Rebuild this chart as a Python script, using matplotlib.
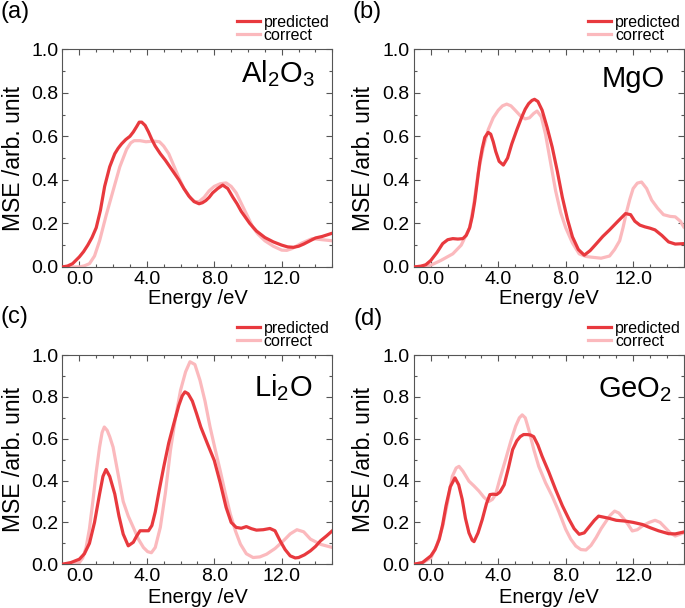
import numpy as np
import matplotlib
matplotlib.use("Agg")
import matplotlib.pyplot as plt
from matplotlib.ticker import MultipleLocator, FormatStrFormatter

plt.rcParams["font.family"] = ["Liberation Sans", "DejaVu Sans"]
plt.rcParams["mathtext.fontset"] = "custom"
plt.rcParams["mathtext.rm"] = "Liberation Sans"
plt.rcParams["mathtext.it"] = "Liberation Sans:italic"

PRED_COLOR = "#e8393e"
CORR_COLOR = "#fbb9bd"

# ---- data (energy in eV, MSE in arb. units) ----
a_pred_x = [-1.0, -0.7, -0.4, 0.0, 0.25, 0.5, 0.75, 1.0, 1.25, 1.5, 1.8, 2.1, 2.3, 2.5, 2.75,
            3.0, 3.2, 3.4, 3.55, 3.7, 3.9, 4.1, 4.3, 4.5, 4.8, 5.1, 5.5, 5.9, 6.2, 6.5, 6.8,
            7.1, 7.3, 7.5, 7.7, 7.9, 8.2, 8.5, 8.8, 9.1, 9.35, 9.6, 10.1, 10.5, 11.0, 11.5,
            12.0, 12.35, 12.7, 13.0, 13.3, 13.8, 14.0, 14.4, 15.0]
a_pred_y = [0.0, 0.004, 0.015, 0.046, 0.07, 0.10, 0.135, 0.18, 0.26, 0.37, 0.46, 0.52, 0.545,
            0.565, 0.585, 0.60, 0.62, 0.645, 0.665, 0.665, 0.65, 0.62, 0.585, 0.555, 0.52,
            0.49, 0.445, 0.40, 0.36, 0.325, 0.30, 0.29, 0.295, 0.305, 0.32, 0.34, 0.36, 0.376,
            0.36, 0.32, 0.29, 0.255, 0.20, 0.165, 0.135, 0.115, 0.10, 0.092, 0.09, 0.095,
            0.105, 0.125, 0.133, 0.14, 0.155]
a_corr_x = [-1.0, -0.5, 0.0, 0.3, 0.6, 0.9, 1.2, 1.6, 2.0, 2.4, 2.8, 3.05, 3.25, 3.6, 3.95,
            4.4, 4.75, 5.0, 5.3, 5.6, 5.9, 6.2, 6.6, 6.85, 7.1, 7.4, 7.7, 8.0, 8.35, 8.7, 9.0,
            9.3, 9.8, 10.3, 10.6, 11.0, 11.5, 12.0, 12.3, 12.6, 13.2, 13.8, 14.4, 15.0]
a_corr_y = [0.0, 0.0, 0.0, 0.005, 0.015, 0.05, 0.12, 0.24, 0.35, 0.46, 0.54, 0.57, 0.58, 0.58,
            0.575, 0.578, 0.575, 0.555, 0.52, 0.465, 0.41, 0.36, 0.315, 0.30, 0.30, 0.32, 0.35,
            0.37, 0.382, 0.386, 0.37, 0.34, 0.26, 0.18, 0.15, 0.12, 0.095, 0.077, 0.076,
            0.084, 0.11, 0.13, 0.125, 0.12]

b_pred_x = [-1.0, -0.6, -0.3, 0.0, 0.35, 0.7, 1.0, 1.3, 1.6, 1.9, 2.1, 2.3, 2.45, 2.6, 2.75,
            2.9, 3.05, 3.2, 3.4, 3.55, 3.7, 3.85, 4.05, 4.3, 4.55, 4.8, 5.1, 5.4, 5.6, 5.8,
            6.0, 6.15, 6.35, 6.6, 6.9, 7.2, 7.5, 7.8, 8.1, 8.4, 8.75, 9.1, 9.45, 9.8, 10.2,
            10.6, 11.1, 11.55, 11.85, 12.1, 12.4, 12.7, 13.0, 13.3, 13.7, 14.1, 14.5, 15.0]
b_pred_y = [0.0, 0.003, 0.01, 0.03, 0.065, 0.107, 0.125, 0.13, 0.128, 0.13, 0.145, 0.18, 0.23,
            0.30, 0.39, 0.48, 0.545, 0.595, 0.618, 0.61, 0.575, 0.53, 0.485, 0.468, 0.50,
            0.565, 0.63, 0.69, 0.725, 0.75, 0.765, 0.77, 0.76, 0.72, 0.64, 0.55, 0.44, 0.32,
            0.22, 0.138, 0.08, 0.054, 0.075, 0.105, 0.14, 0.17, 0.21, 0.245, 0.24, 0.21,
            0.192, 0.184, 0.178, 0.17, 0.145, 0.115, 0.105, 0.107]
b_corr_x = [-1.0, 0.0, 0.6, 1.3, 1.8, 2.3, 2.55, 2.8, 3.1, 3.4, 3.7, 4.0, 4.25, 4.5, 4.75, 5.0,
            5.3, 5.6, 5.85, 6.1, 6.3, 6.55, 6.8, 7.1, 7.4, 7.7, 8.0, 8.4, 8.8, 9.2, 9.5, 10.1,
            10.6, 10.9, 11.2, 11.4, 11.6, 11.8, 12.0, 12.25, 12.5, 12.8, 13.1, 13.45, 13.8,
            14.2, 14.5, 14.8, 15.0]
b_corr_y = [0.0, 0.008, 0.03, 0.06, 0.10, 0.18, 0.29, 0.43, 0.545, 0.63, 0.685, 0.72, 0.74,
            0.748, 0.74, 0.72, 0.695, 0.68, 0.685, 0.705, 0.716, 0.69, 0.61, 0.48, 0.35, 0.25,
            0.18, 0.11, 0.06, 0.048, 0.045, 0.04, 0.05, 0.08, 0.12, 0.18, 0.25, 0.31, 0.36,
            0.385, 0.39, 0.36, 0.307, 0.27, 0.24, 0.232, 0.23, 0.21, 0.184]

c_pred_x = [-1.0, -0.5, 0.0, 0.3, 0.6, 0.9, 1.2, 1.4, 1.58, 1.8, 2.1, 2.35, 2.6, 2.9, 3.2, 3.4,
            3.6, 3.85, 4.1, 4.3, 4.5, 4.75, 5.0, 5.3, 5.6, 5.9, 6.1, 6.26, 6.45, 6.7, 6.95,
            7.2, 7.6, 8.0, 8.35, 8.7, 9.0, 9.3, 9.6, 9.9, 10.2, 10.5, 10.9, 11.3, 11.6, 11.9,
            12.2, 12.5, 12.8, 13.0, 13.35, 13.7, 14.0, 14.3, 14.65, 15.0]
c_pred_y = [0.0, 0.008, 0.024, 0.05, 0.10, 0.20, 0.336, 0.42, 0.453, 0.42, 0.336, 0.23, 0.144,
            0.088, 0.105, 0.135, 0.16, 0.16, 0.16, 0.185, 0.25, 0.36, 0.464, 0.58, 0.672,
            0.76, 0.805, 0.824, 0.815, 0.78, 0.72, 0.656, 0.575, 0.496, 0.39, 0.272, 0.2,
            0.176, 0.172, 0.18, 0.17, 0.163, 0.165, 0.171, 0.16, 0.112, 0.07, 0.04, 0.03,
            0.032, 0.045, 0.064, 0.085, 0.112, 0.135, 0.16]
c_corr_x = [-1.0, -0.4, 0.0, 0.2, 0.4, 0.6, 0.8, 1.0, 1.2, 1.35, 1.48, 1.65, 1.8, 2.0, 2.3,
            2.6, 2.9, 3.2, 3.5, 3.8, 4.05, 4.27, 4.5, 4.8, 5.1, 5.4, 5.7, 6.0, 6.3, 6.56, 6.85,
            7.15, 7.45, 7.75, 8.05, 8.35, 8.65, 8.95, 9.25, 9.55, 9.9, 10.3, 10.7, 11.1, 11.6,
            12.1, 12.5, 12.9, 13.3, 13.7, 14.3, 15.0]
c_corr_y = [0.0, 0.003, 0.008, 0.03, 0.08, 0.17, 0.30, 0.44, 0.56, 0.63, 0.656, 0.64, 0.61,
            0.56, 0.43, 0.30, 0.23, 0.176, 0.12, 0.08, 0.06, 0.055, 0.08, 0.176, 0.34, 0.544,
            0.70, 0.832, 0.92, 0.968, 0.955, 0.88, 0.78, 0.656, 0.55, 0.448, 0.34, 0.24, 0.16,
            0.096, 0.05, 0.032, 0.035, 0.048, 0.075, 0.112, 0.145, 0.165, 0.155, 0.12, 0.095,
            0.08]

d_pred_x = [-1.0, -0.5, 0.0, 0.25, 0.5, 0.7, 0.9, 1.15, 1.43, 1.65, 1.86, 2.05, 2.26, 2.45,
            2.56, 2.8, 3.05, 3.3, 3.5, 3.7, 3.9, 4.1, 4.35, 4.6, 4.85, 5.1, 5.3, 5.5, 5.7, 5.9,
            6.1, 6.35, 6.6, 7.0, 7.4, 7.8, 8.2, 8.5, 8.8, 9.1, 9.4, 9.7, 9.95, 10.25, 10.55,
            11.0, 11.55, 12.0, 12.55, 13.0, 13.5, 14.1, 14.5, 15.0]
d_pred_y = [0.0, 0.008, 0.04, 0.07, 0.12, 0.19, 0.28, 0.37, 0.413, 0.38, 0.31, 0.22, 0.15,
            0.115, 0.108, 0.15, 0.214, 0.29, 0.333, 0.335, 0.333, 0.345, 0.38, 0.46, 0.548,
            0.59, 0.61, 0.62, 0.62, 0.618, 0.61, 0.57, 0.516, 0.44, 0.357, 0.28, 0.214, 0.17,
            0.143, 0.15, 0.18, 0.21, 0.23, 0.225, 0.22, 0.21, 0.206, 0.2, 0.19, 0.175, 0.16,
            0.146, 0.145, 0.154]
d_corr_x = [-1.0, -0.5, 0.0, 0.35, 0.7, 1.0, 1.27, 1.5, 1.67, 1.9, 2.26, 2.55, 2.85, 3.15,
            3.44, 3.65, 3.84, 4.1, 4.43, 4.75, 5.03, 5.25, 5.42, 5.6, 5.82, 6.1, 6.4, 6.8, 7.2,
            7.6, 8.0, 8.3, 8.6, 8.9, 9.2, 9.5, 9.8, 10.1, 10.4, 10.65, 10.9, 11.15, 11.4, 11.7,
            11.95, 12.25, 12.55, 12.95, 13.3, 13.6, 13.9, 14.2, 14.5, 15.0]
d_corr_y = [0.0, 0.006, 0.03, 0.09, 0.18, 0.30, 0.42, 0.46, 0.468, 0.445, 0.397, 0.375, 0.35,
            0.32, 0.30, 0.31, 0.333, 0.41, 0.50, 0.59, 0.66, 0.70, 0.714, 0.70, 0.64, 0.55,
            0.468, 0.39, 0.325, 0.25, 0.167, 0.12, 0.087, 0.07, 0.068, 0.09, 0.127, 0.17,
            0.206, 0.235, 0.254, 0.245, 0.222, 0.19, 0.159, 0.165, 0.183, 0.2, 0.21, 0.2,
            0.175, 0.15, 0.135, 0.15]

panel_tags = ["(a)", "(b)", "(c)", "(d)"]
materials = [r"Al$\mathregular{_2}$O$\mathregular{_3}$", "MgO",
             r"Li$\mathregular{_2}$O", r"GeO$\mathregular{_2}$"]
series = [
    (a_pred_x, a_pred_y, a_corr_x, a_corr_y),
    (b_pred_x, b_pred_y, b_corr_x, b_corr_y),
    (c_pred_x, c_pred_y, c_corr_x, c_corr_y),
    (d_pred_x, d_pred_y, d_corr_x, d_corr_y),
]

# axes rectangles in figure fractions
rects = [
    [0.0912, 0.561, 0.394, 0.358],
    [0.6044, 0.561, 0.3937, 0.358],
    [0.0912, 0.072, 0.394, 0.344],
    [0.6044, 0.072, 0.3937, 0.344],
]
tag_pos = [(0.0, 0.999), (0.515, 0.999), (0.0, 0.497), (0.516, 0.493)]
mat_pos = [(0.935, 0.847), (0.93, 0.828), (0.925, 0.805), (0.955, 0.80)]
# ylabel anchor is the right edge of the rotated text
ylab_x = [-0.14, -0.143, -0.14, -0.143]
xlab_y = [-0.101, -0.101, -0.113, -0.113]


def style_axes(ax):
    ax.set_xlim(-1, 15)
    ax.set_ylim(0, 1.0)
    ax.xaxis.set_major_locator(MultipleLocator(4))
    ax.xaxis.set_minor_locator(MultipleLocator(1))
    ax.yaxis.set_major_locator(MultipleLocator(0.2))
    ax.yaxis.set_minor_locator(MultipleLocator(0.1))
    ax.xaxis.set_major_formatter(FormatStrFormatter("%.1f"))
    ax.yaxis.set_major_formatter(FormatStrFormatter("%.1f"))
    ax.tick_params(which="both", direction="in", top=True, right=True,
                   color="#555555", width=0.8)
    ax.tick_params(which="major", length=4, labelsize=14, pad=3)
    ax.tick_params(which="minor", length=2.5)
    for sp in ax.spines.values():
        sp.set_color("#555555")
        sp.set_linewidth(0.8)


def main():
    fig = plt.figure(figsize=(6.85, 6.08), dpi=100)
    for i in range(4):
        px, py, cx, cy = series[i]
        ax = fig.add_axes(rects[i])
        ax.plot(cx, cy, color=CORR_COLOR, lw=2.3, label="correct", zorder=2,
                solid_joinstyle="round")
        ax.plot(px, py, color=PRED_COLOR, lw=2.3, label="predicted", zorder=3,
                solid_joinstyle="round")
        style_axes(ax)
        ax.set_xlabel("Energy /eV", fontsize=14.5)
        ax.set_ylabel("MSE /arb. unit", fontsize=16.5)
        ax.yaxis.set_label_coords(ylab_x[i], 0.5)
        ax.xaxis.set_label_coords(0.5, xlab_y[i])
        ax.xaxis.label.set_va("top")
        ax.text(mat_pos[i][0], mat_pos[i][1], materials[i], transform=ax.transAxes,
                ha="right", va="baseline", fontsize=21)
        h, l = ax.get_legend_handles_labels()
        ax.legend(h[::-1], l[::-1], loc="lower right", bbox_to_anchor=(0.99, 1.03),
                  frameon=False, fontsize=11.5, handlelength=1.45, handletextpad=0.25,
                  labelspacing=-0.12, borderpad=0, borderaxespad=0)
        fig.text(tag_pos[i][0], tag_pos[i][1], panel_tags[i], ha="left", va="top",
                 fontsize=17)
    fig.savefig("out.png", dpi=100)


if __name__ == "__main__":
    main()
